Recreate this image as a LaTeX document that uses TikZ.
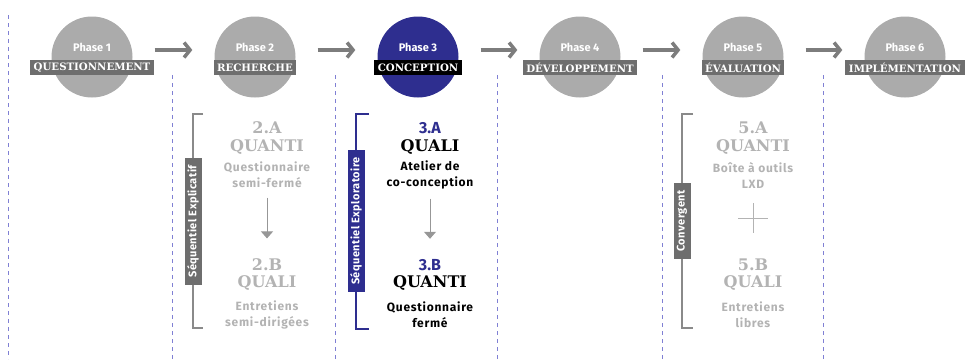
\documentclass[tikz,border=0pt]{standalone}
\usepackage{fontspec}
\setmainfont{Fira Sans}
\newfontfamily\slabfont{DejaVu Serif}
\usetikzlibrary{arrows.meta,positioning}

\definecolor{cercle}{HTML}{ABABAB}
\definecolor{etiquette}{HTML}{6E6E6E}
\definecolor{marine}{HTML}{2E2E8F}
\definecolor{pale}{HTML}{B3B3B3}
\definecolor{fleche}{HTML}{7D7D7D}
\definecolor{pointille}{HTML}{8080D4}
\definecolor{crochetgris}{HTML}{8A8A8A}

\begin{document}
\begin{tikzpicture}[x=1pt,y=-1pt,
    phase/.style={circle,fill=cercle,minimum size=81pt,inner sep=0pt},
    numero/.style={text=white,font=\fontsize{11}{11}\selectfont\bfseries},
    etiq/.style={fill=etiquette,text=white,font=\fontsize{10.2}{10.2}\selectfont\slabfont\bfseries,
                 inner xsep=3.5pt,inner ysep=0pt,minimum height=15.5pt},
    suite/.style={draw=fleche,line width=3.5pt,-{Straight Barb[length=6pt,width=15pt]},
                  shorten <=22pt,shorten >=22pt},
    separe/.style={draw=pointille,line width=0.8pt,dash pattern=on 4pt off 4pt},
    code/.style={font=\fontsize{16}{16}\selectfont\slabfont\bfseries},
    codesans/.style={font=\fontsize{16}{16}\selectfont\bfseries},
    methode/.style={font=\fontsize{16}{16}\selectfont\slabfont\bfseries},
    detail/.style={align=center,font=\fontsize{12}{16}\selectfont\bfseries\addfontfeatures{LetterSpace=6}},
    descente/.style={draw=fleche!80,line width=1pt,-{Triangle[length=7pt,width=12pt]},
                     shorten <=6pt,shorten >=17pt},
    crochet/.style={line width=1.6pt},
    devis/.style={rotate=90,text=white,font=\fontsize{11}{11}\selectfont\bfseries\addfontfeatures{LetterSpace=4},
                  inner sep=0pt,minimum height=17pt}
  ]
  \useasboundingbox (0,0) rectangle (975,359);

  % lignes de separation
  \draw[separe] (8,15) -- (8,359);
  \foreach \x in {172,335,497,662,823}
    \draw[separe] (\x,75) -- (\x,359);

  % les six phases
  \node[phase] (p1) at (92,57) {};
  \node[phase] (p2) at (255,57) {};
  \node[phase,fill=marine] (p3) at (418,57) {};
  \node[phase] (p4) at (580,57) {};
  \node[phase] (p5) at (743,57) {};
  \node[phase] (p6) at (905,57) {};

  \node[numero] at (92,47) {Phase 1};
  \node[numero] at (255,47) {Phase 2};
  \node[numero] at (418,47) {Phase 3};
  \node[numero] at (580,47) {Phase 4};
  \node[numero] at (743,47) {Phase 5};
  \node[numero] at (905,47) {Phase 6};

  \node[etiq] at (92,67.5) {QUESTIONNEMENT};
  \node[etiq] at (255,67.5) {RECHERCHE};
  \node[etiq,fill=black] at (418,67.5) {CONCEPTION};
  \node[etiq] at (580,67.5) {DÉVELOPPEMENT};
  \node[etiq] at (743,67.5) {ÉVALUATION};
  \node[etiq] at (905,67.5) {IMPLÉMENTATION};

  \foreach \a/\b in {p1/p2,p2/p3,p3/p4,p4/p5,p5/p6}
    \draw[suite] ([yshift=7pt]\a.east) -- ([yshift=7pt]\b.west);

  % phase 2 : sequentiel explicatif
  \draw[crochet,crochetgris] (203,114) -- (193,114) -- (193,328) -- (203,328);
  \node[devis,fill=etiquette,minimum width=127pt] at (193,221.5) {Séquentiel Explicatif};
  \node[code,text=pale] (c2a) at (267,128) {2.A};
  \node[methode,text=pale] at (267,147) {QUANTI};
  \node[detail,text=pale] (d2a) at (267,175) {Questionnaire\\semi-fermé};
  \node[code,text=pale] (c2b) at (267,265) {2.B};
  \node[methode,text=pale] at (267,283) {QUALI};
  \node[detail,text=pale] (d2b) at (267,315) {Entretiens\\semi-dirigées};
  \draw[descente] (d2a) -- (c2b);

  % phase 3 : sequentiel exploratoire
  \draw[crochet,marine] (369,114) -- (356,114) -- (356,329) -- (369,329);
  \node[devis,fill=marine,minimum width=142pt] at (356,221) {Séquentiel Exploratoire};
  \node[codesans,text=marine] (c3a) at (430,128) {3.A};
  \node[methode] at (430,147) {QUALI};
  \node[detail] (d3a) at (430,175) {Atelier de\\co-conception};
  \node[codesans,text=marine] (c3b) at (430,265) {3.B};
  \node[methode] at (430,283) {QUANTI};
  \node[detail] (d3b) at (430,315) {Questionnaire\\fermé};
  \draw[descente] (d3a) -- (c3b);

  % phase 5 : convergent
  \draw[crochet,crochetgris] (693,114) -- (682,114) -- (682,328) -- (693,328);
  \node[devis,fill=etiquette,minimum width=76pt] at (682,221) {Convergent};
  \node[code,text=pale] at (753,128) {5.A};
  \node[methode,text=pale] at (753,147) {QUANTI};
  \node[detail,text=pale] at (753,175) {Boîte à outils\\LXD};
  \node[code,text=pale] at (753,265) {5.B};
  \node[methode,text=pale] at (753,283) {QUALI};
  \node[detail,text=pale] at (753,315) {Entretiens\\libres};
  \draw[pale,line width=0.8pt] (738,218) -- (768,218) (753,203) -- (753,233);
\end{tikzpicture}
\end{document}
